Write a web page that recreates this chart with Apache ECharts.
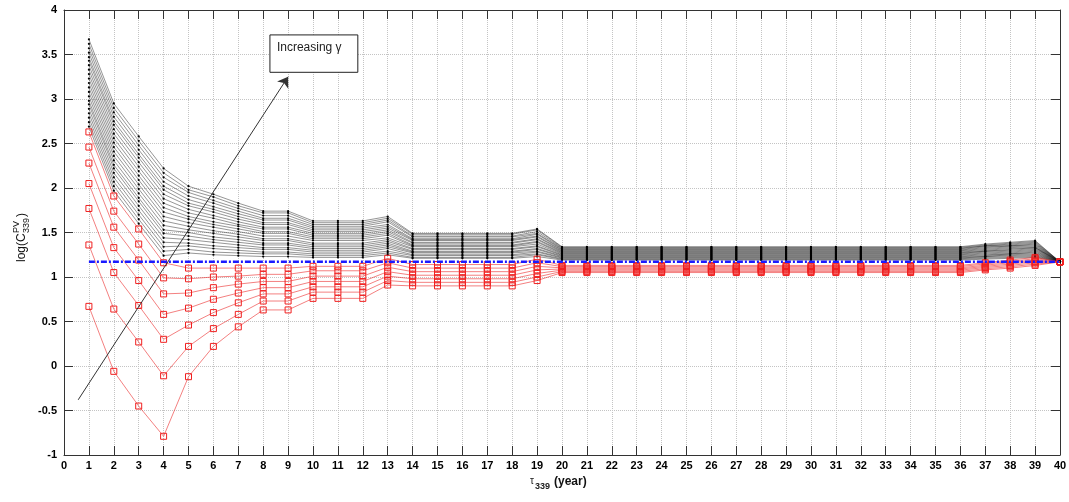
<!DOCTYPE html>
<html>
<head>
<meta charset="utf-8">
<script src="https://cdn.jsdelivr.net/npm/echarts@6.0.0/dist/echarts.min.js"></script>
<style>
  html, body { margin: 0; padding: 0; background: #ffffff; }
  #chart { width: 1069px; height: 502px; }
</style>
</head>
<body>
<div id="chart"></div>
<script>
// Maturity years on the horizontal axis
const years = [1,2,3,4,5,6,7,8,9,10,11,12,13,14,15,16,17,18,19,20,
               21,22,23,24,25,26,27,28,29,30,31,32,33,34,35,36,37,38,39,40];

// Curves that stay above the reference level (black), lowest gamma first
const black01 = [2.69,1.97,1.60,1.24,1.27,1.25,1.24,1.23,1.23,1.22,1.22,1.22,1.25,1.21,1.21,1.21,1.21,1.21,1.23,
  1.19,1.19,1.19,1.19,1.19,1.19,1.19,1.19,1.19,1.19,1.19,1.19,1.19,1.19,1.19,1.19,1.19, 1.20,1.21,1.22,1.17];
const black02 = [2.74,2.02,1.65,1.29,1.31,1.28,1.27,1.26,1.26,1.24,1.24,1.24,1.27,1.22,1.22,1.22,1.22,1.22,1.25,
  1.198,1.198,1.198,1.198,1.198,1.198,1.198,1.198,1.198,1.198,1.198,1.198,1.198,1.198,1.198,1.198,1.198, 1.21,1.22,1.23,1.17];
const black03 = [2.79,2.07,1.70,1.34,1.35,1.32,1.30,1.28,1.28,1.26,1.26,1.26,1.29,1.24,1.24,1.24,1.24,1.24,1.26,
  1.205,1.205,1.205,1.205,1.205,1.205,1.205,1.205,1.205,1.205,1.205,1.205,1.205,1.205,1.205,1.205,1.205, 1.22,1.23,1.24,1.17];
const black04 = [2.84,2.12,1.75,1.39,1.38,1.35,1.33,1.31,1.31,1.28,1.28,1.28,1.32,1.25,1.25,1.25,1.25,1.25,1.28,
  1.213,1.213,1.213,1.213,1.213,1.213,1.213,1.213,1.213,1.213,1.213,1.213,1.213,1.213,1.213,1.213,1.213, 1.23,1.24,1.25,1.17];
const black05 = [2.89,2.17,1.80,1.44,1.42,1.39,1.36,1.33,1.33,1.30,1.30,1.30,1.34,1.27,1.27,1.27,1.27,1.27,1.29,
  1.22,1.22,1.22,1.22,1.22,1.22,1.22,1.22,1.22,1.22,1.22,1.22,1.22,1.22,1.22,1.22,1.22, 1.23,1.25,1.26,1.17];
const black06 = [2.94,2.22,1.85,1.49,1.46,1.42,1.39,1.36,1.36,1.32,1.32,1.32,1.36,1.28,1.28,1.28,1.28,1.28,1.31,
  1.228,1.228,1.228,1.228,1.228,1.228,1.228,1.228,1.228,1.228,1.228,1.228,1.228,1.228,1.228,1.228,1.228, 1.24,1.26,1.27,1.17];
const black07 = [2.98,2.26,1.89,1.53,1.50,1.45,1.42,1.38,1.38,1.34,1.34,1.34,1.38,1.29,1.29,1.29,1.29,1.29,1.32,
  1.235,1.235,1.235,1.235,1.235,1.235,1.235,1.235,1.235,1.235,1.235,1.235,1.235,1.235,1.235,1.235,1.235, 1.25,1.26,1.28,1.17];
const black08 = [3.03,2.31,1.94,1.58,1.53,1.49,1.45,1.41,1.41,1.36,1.36,1.36,1.40,1.31,1.31,1.31,1.31,1.31,1.34,
  1.243,1.243,1.243,1.243,1.243,1.243,1.243,1.243,1.243,1.243,1.243,1.243,1.243,1.243,1.243,1.243,1.243, 1.26,1.27,1.29,1.17];
const black09 = [3.08,2.36,1.99,1.63,1.57,1.52,1.48,1.43,1.43,1.38,1.38,1.38,1.42,1.32,1.32,1.32,1.32,1.32,1.35,
  1.25,1.25,1.25,1.25,1.25,1.25,1.25,1.25,1.25,1.25,1.25,1.25,1.25,1.25,1.25,1.25,1.25, 1.27,1.28,1.30,1.17];
const black10 = [3.13,2.41,2.04,1.68,1.61,1.56,1.51,1.46,1.46,1.41,1.41,1.41,1.44,1.34,1.34,1.34,1.34,1.34,1.37,
  1.258,1.258,1.258,1.258,1.258,1.258,1.258,1.258,1.258,1.258,1.258,1.258,1.258,1.258,1.258,1.258,1.258, 1.28,1.29,1.31,1.17];
const black11 = [3.18,2.46,2.09,1.73,1.65,1.59,1.54,1.49,1.49,1.43,1.43,1.43,1.47,1.35,1.35,1.35,1.35,1.35,1.39,
  1.265,1.265,1.265,1.265,1.265,1.265,1.265,1.265,1.265,1.265,1.265,1.265,1.265,1.265,1.265,1.265,1.265, 1.29,1.30,1.32,1.17];
const black12 = [3.23,2.51,2.14,1.78,1.68,1.62,1.57,1.51,1.51,1.45,1.45,1.45,1.49,1.36,1.36,1.36,1.36,1.36,1.40,
  1.273,1.273,1.273,1.273,1.273,1.273,1.273,1.273,1.273,1.273,1.273,1.273,1.273,1.273,1.273,1.273,1.273, 1.29,1.31,1.33,1.17];
const black13 = [3.28,2.56,2.19,1.83,1.72,1.66,1.59,1.54,1.54,1.47,1.47,1.47,1.51,1.38,1.38,1.38,1.38,1.38,1.42,
  1.28,1.28,1.28,1.28,1.28,1.28,1.28,1.28,1.28,1.28,1.28,1.28,1.28,1.28,1.28,1.28,1.28, 1.30,1.32,1.33,1.17];
const black14 = [3.33,2.61,2.24,1.88,1.76,1.69,1.62,1.56,1.56,1.49,1.49,1.49,1.53,1.39,1.39,1.39,1.39,1.39,1.43,
  1.288,1.288,1.288,1.288,1.288,1.288,1.288,1.288,1.288,1.288,1.288,1.288,1.288,1.288,1.288,1.288,1.288, 1.31,1.33,1.34,1.17];
const black15 = [3.38,2.66,2.29,1.93,1.80,1.73,1.65,1.59,1.59,1.51,1.51,1.51,1.55,1.41,1.41,1.41,1.41,1.41,1.45,
  1.295,1.295,1.295,1.295,1.295,1.295,1.295,1.295,1.295,1.295,1.295,1.295,1.295,1.295,1.295,1.295,1.295, 1.32,1.34,1.35,1.17];
const black16 = [3.43,2.71,2.34,1.98,1.83,1.76,1.68,1.61,1.61,1.53,1.53,1.53,1.57,1.42,1.42,1.42,1.42,1.42,1.46,
  1.303,1.303,1.303,1.303,1.303,1.303,1.303,1.303,1.303,1.303,1.303,1.303,1.303,1.303,1.303,1.303,1.303, 1.33,1.35,1.36,1.17];
const black17 = [3.47,2.75,2.38,2.02,1.87,1.79,1.71,1.64,1.64,1.55,1.55,1.55,1.59,1.43,1.43,1.43,1.43,1.43,1.48,
  1.31,1.31,1.31,1.31,1.31,1.31,1.31,1.31,1.31,1.31,1.31,1.31,1.31,1.31,1.31,1.31,1.31, 1.34,1.35,1.37,1.17];
const black18 = [3.52,2.80,2.43,2.07,1.91,1.83,1.74,1.66,1.66,1.57,1.57,1.57,1.62,1.45,1.45,1.45,1.45,1.45,1.49,
  1.318,1.318,1.318,1.318,1.318,1.318,1.318,1.318,1.318,1.318,1.318,1.318,1.318,1.318,1.318,1.318,1.318, 1.35,1.36,1.38,1.17];
const black19 = [3.57,2.85,2.48,2.12,1.95,1.86,1.77,1.69,1.69,1.59,1.59,1.59,1.64,1.46,1.46,1.46,1.46,1.46,1.51,
  1.325,1.325,1.325,1.325,1.325,1.325,1.325,1.325,1.325,1.325,1.325,1.325,1.325,1.325,1.325,1.325,1.325, 1.35,1.37,1.39,1.17];
const black20 = [3.62,2.90,2.53,2.17,1.98,1.90,1.80,1.72,1.72,1.61,1.61,1.61,1.66,1.48,1.48,1.48,1.48,1.48,1.53,
  1.333,1.333,1.333,1.333,1.333,1.333,1.333,1.333,1.333,1.333,1.333,1.333,1.333,1.333,1.333,1.333,1.333, 1.36,1.38,1.40,1.17];
const black21 = [3.67,2.95,2.58,2.22,2.02,1.93,1.83,1.74,1.74,1.63,1.63,1.63,1.68,1.49,1.49,1.49,1.49,1.49,1.54,
  1.34,1.34,1.34,1.34,1.34,1.34,1.34,1.34,1.34,1.34,1.34,1.34,1.34,1.34,1.34,1.34,1.34, 1.37,1.39,1.41,1.17];

// Curves that dip below the reference level (red, square markers), highest first
const red1 = [2.63,1.91,1.54,1.16,1.10,1.10,1.10,1.10,1.10,1.12,1.12,1.12,1.21,1.14,1.14,1.14,1.14,1.14,1.20,
  1.13,1.13,1.13,1.13,1.13,1.13,1.13,1.13,1.13,1.13,1.13,1.13,1.13,1.13,1.13,1.13,1.13, 1.16,1.19,1.22,1.17];
const red2 = [2.46,1.74,1.37,0.99,0.98,1.00,1.01,1.03,1.03,1.07,1.07,1.07,1.16,1.10,1.10,1.10,1.10,1.10,1.16,
  1.117,1.117,1.117,1.117,1.117,1.117,1.117,1.117,1.117,1.117,1.117,1.117,1.117,1.117,1.117,1.117,1.117, 1.147,1.175,1.205,1.17];
const red3 = [2.28,1.56,1.19,0.81,0.82,0.88,0.92,0.95,0.95,1.01,1.01,1.01,1.11,1.06,1.06,1.06,1.06,1.06,1.12,
  1.103,1.103,1.103,1.103,1.103,1.103,1.103,1.103,1.103,1.103,1.103,1.103,1.103,1.103,1.103,1.103,1.103, 1.133,1.16,1.19,1.17];
const red4 = [2.05,1.33,0.96,0.58,0.65,0.75,0.82,0.88,0.88,0.95,0.95,0.95,1.06,1.02,1.02,1.02,1.02,1.02,1.08,
  1.09,1.09,1.09,1.09,1.09,1.09,1.09,1.09,1.09,1.09,1.09,1.09,1.09,1.09,1.09,1.09,1.09, 1.12,1.145,1.175,1.17];
const red5 = [1.77,1.05,0.68,0.30,0.46,0.60,0.71,0.81,0.81,0.89,0.89,0.89,1.01,0.98,0.98,0.98,0.98,0.98,1.04,
  1.077,1.077,1.077,1.077,1.077,1.077,1.077,1.077,1.077,1.077,1.077,1.077,1.077,1.077,1.077,1.077,1.077, 1.107,1.13,1.16,1.17];
const red6 = [1.36,0.64,0.27,-0.11,0.22,0.42,0.58,0.73,0.73,0.83,0.83,0.83,0.96,0.94,0.94,0.94,0.94,0.94,1.00,
  1.063,1.063,1.063,1.063,1.063,1.063,1.063,1.063,1.063,1.063,1.063,1.063,1.063,1.063,1.063,1.063,1.063, 1.093,1.115,1.145,1.17];
const red7 = [0.67,-0.06,-0.45,-0.79,-0.12,0.22,0.44,0.63,0.63,0.76,0.76,0.76,0.91,0.90,0.90,0.90,0.90,0.90,0.96,
  1.05,1.05,1.05,1.05,1.05,1.05,1.05,1.05,1.05,1.05,1.05,1.05,1.05,1.05,1.05,1.05,1.05, 1.08,1.10,1.13,1.17];

// Reference level (blue dash-dot)
const reference = [1.17,1.17,1.17,1.17,1.17,1.17,1.17,1.17,1.17,1.17,1.17,1.17,1.17,1.17,1.17,1.17,1.17,1.17,1.17,1.17,
  1.17,1.17,1.17,1.17,1.17,1.17,1.17,1.17,1.17,1.17,1.17,1.17,1.17,1.17,1.17,1.17,1.17,1.17,1.17,1.17];

// Arrow showing the direction of increasing gamma: [year, value] at tail and head
const arrowTail = [0.57, -0.38];
const arrowHead = [9.0, 3.25];
const annotationText = 'Increasing \u03b3';

const blackCurves = [black01,black02,black03,black04,black05,black06,black07,black08,black09,black10,
  black11,black12,black13,black14,black15,black16,black17,black18,black19,black20,black21];
const redCurves = [red1,red2,red3,red4,red5,red6,red7];

const toPoints = vals => years.map((yr, i) => [yr, vals[i]]);

const series = [];
blackCurves.forEach((c, i) => {
  series.push({
    name: 'black' + (i + 1), type: 'line', data: toPoints(c),
    symbol: 'circle', symbolSize: 2.2, showSymbol: true,
    itemStyle: { color: '#000' },
    lineStyle: { color: 'rgba(20,20,20,0.75)', width: 0.6 },
    silent: true, z: 2
  });
});
redCurves.forEach((c, i) => {
  series.push({
    name: 'red' + (i + 1), type: 'line', data: toPoints(c),
    symbol: 'rect', symbolSize: 6, showSymbol: true,
    itemStyle: { color: 'rgba(255,255,255,0)', borderColor: '#f02020', borderWidth: 1 },
    lineStyle: { color: 'rgba(235,40,40,0.85)', width: 0.7 },
    silent: true, z: 3
  });
});
series.push({
  name: 'reference', type: 'line', data: toPoints(reference),
  symbol: 'none',
  lineStyle: { color: '#1a1aff', width: 2.5, type: [6, 2, 2, 2] },
  silent: true, z: 4
});
// Arrow drawn as its own line series so it gets an arrow head at the far end
series.push({
  name: 'arrow', type: 'line', data: [],
  symbol: 'none', silent: true, z: 5,
  markLine: {
    silent: true, symbol: ['none', 'arrow'], symbolSize: 10,
    label: { show: false },
    lineStyle: { color: '#333', width: 1, type: 'solid' },
    itemStyle: { color: '#222' },
    data: [[{ coord: arrowTail }, { coord: arrowHead }]]
  }
});

const tickFont = { color: '#000', fontSize: 11, fontWeight: 'bold', fontFamily: 'Liberation Sans, Arial, sans-serif' };
const axisLineStyle = { color: '#333', width: 1 };

const chart = echarts.init(document.getElementById('chart'), null, { renderer: 'canvas' });
chart.setOption({
  animation: false,
  backgroundColor: '#ffffff',
  grid: { left: 64, right: 9, top: 10, bottom: 47, containLabel: false, outerBoundsMode: 'none' },
  xAxis: [
    { type: 'value', min: 0, max: 40, interval: 1, position: 'bottom',
      axisLine: { show: true, onZero: false, lineStyle: axisLineStyle },
      axisTick: { show: true, inside: true, length: 9, lineStyle: axisLineStyle },
      axisLabel: Object.assign({ margin: 5 }, tickFont),
      splitLine: { show: true, lineStyle: { color: '#c4c4c4', type: 'dotted', width: 1 } } },
    { type: 'value', min: 0, max: 40, interval: 1, position: 'top',
      axisLine: { show: true, onZero: false, lineStyle: axisLineStyle },
      axisTick: { show: true, inside: true, length: 9, lineStyle: axisLineStyle },
      axisLabel: { show: false }, splitLine: { show: false } }
  ],
  yAxis: [
    { type: 'value', min: -1, max: 4, interval: 0.5, position: 'left',
      axisLine: { show: true, onZero: false, lineStyle: axisLineStyle },
      axisTick: { show: true, inside: true, length: 9, lineStyle: axisLineStyle },
      axisLabel: Object.assign({ margin: 7 }, tickFont),
      splitLine: { show: true, lineStyle: { color: '#c4c4c4', type: 'dotted', width: 1 } } },
    { type: 'value', min: -1, max: 4, interval: 0.5, position: 'right',
      axisLine: { show: true, onZero: false, lineStyle: axisLineStyle },
      axisTick: { show: true, inside: true, length: 9, lineStyle: axisLineStyle },
      axisLabel: { show: false }, splitLine: { show: false } }
  ],
  series: series
});

// Annotation box placed in data space, then titles for both axes
const toPx = p => chart.convertToPixel({ xAxisIndex: 0, yAxisIndex: 0 }, p);
const boxTL = toPx([8.27, 3.72]);
const boxBR = toPx([11.8, 3.30]);
const titleFont = 'Liberation Sans, Arial, sans-serif';

chart.setOption({
  graphic: [
    { type: 'rect', z: 10,
      shape: { x: boxTL[0], y: boxTL[1], width: boxBR[0] - boxTL[0], height: boxBR[1] - boxTL[1] },
      style: { fill: '#fff', stroke: '#222', lineWidth: 1 } },
    { type: 'text', z: 11, x: boxTL[0] + 7, y: boxTL[1] + 13,
      style: { text: annotationText, fill: '#222', font: '12px ' + titleFont, verticalAlign: 'middle', align: 'left' } },
    // vertical axis title: log(C^PV_339)
    { type: 'group', x: 22, y: 262, rotation: Math.PI / 2, z: 10,
      children: [
        { type: 'text', x: 0, y: 0, style: { text: 'log(C', fill: '#111', font: '12px ' + titleFont, verticalAlign: 'middle', align: 'left' } },
        { type: 'text', x: 29, y: -5, style: { text: 'PV', fill: '#111', font: '9px ' + titleFont, verticalAlign: 'middle', align: 'left' } },
        { type: 'text', x: 29, y: 5, style: { text: '339', fill: '#111', font: '9px ' + titleFont, verticalAlign: 'middle', align: 'left' } },
        { type: 'text', x: 45, y: 0, style: { text: ')', fill: '#111', font: '12px ' + titleFont, verticalAlign: 'middle', align: 'left' } }
      ] },
    // horizontal axis title: tau_339 (year)
    { type: 'group', x: 530, y: 482, z: 10,
      children: [
        { type: 'text', x: 0, y: -1, style: { text: '\u03c4', fill: '#222', font: '10px ' + titleFont, verticalAlign: 'middle', align: 'left' } },
        { type: 'text', x: 5, y: 5, style: { text: '339', fill: '#222', font: 'bold 9px ' + titleFont, verticalAlign: 'middle', align: 'left' } },
        { type: 'text', x: 24, y: 0, style: { text: '(year)', fill: '#111', font: 'bold 12px ' + titleFont, verticalAlign: 'middle', align: 'left' } }
      ] }
  ]
});
</script>
</body>
</html>
